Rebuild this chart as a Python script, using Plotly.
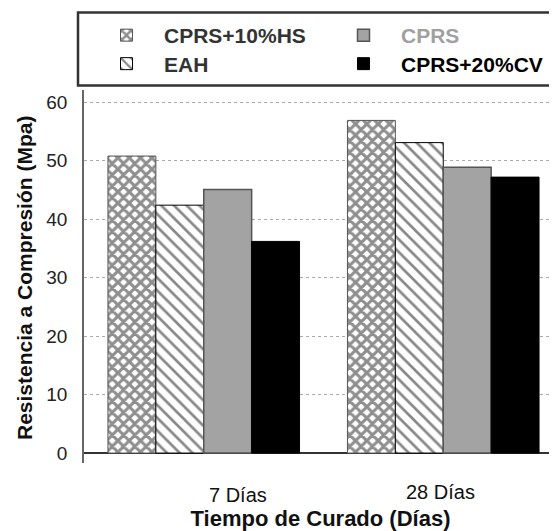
import plotly.graph_objects as go

categories = ["7 Días", "28 Días"]
series_names = ["CPRS+10%HS", "EAH", "CPRS", "CPRS+20%CV"]
hs_values = [50.8, 56.9]
eah_values = [42.4, 53.1]
cprs_values = [45.1, 48.9]
cv_values = [36.2, 47.2]
y_ticks = [0, 10, 20, 30, 40, 50, 60]

FONT = "Liberation Sans, Arial, sans-serif"

# The page body adds an 8px offset; size the figure to fit the window exactly.
OFF = 8
W, H = 557 - OFF, 531 - OFF
ML, MR, MT, MB = 84 - OFF, 0, 90 - OFF, 531 - 463
pw, ph = W - ML - MR, H - MT - MB

def cx(px):
    return (px - OFF) / W

def cy(py):
    return 1 - (py - OFF) / H

fig = go.Figure()

fig.add_trace(go.Bar(
    x=categories, y=hs_values, name=series_names[0], legend="legend",
    marker=dict(color="white", line=dict(color="#555", width=1),
                pattern=dict(shape="x", fgcolor="#1e1e1e", bgcolor="white", size=8, solidity=0.62)),
))
fig.add_trace(go.Bar(
    x=categories, y=eah_values, name=series_names[1], legend="legend2",
    marker=dict(color="white", line=dict(color="#000", width=1),
                pattern=dict(shape="\\", fgcolor="#111", bgcolor="white", size=9, solidity=0.3)),
))
fig.add_trace(go.Bar(
    x=categories, y=cprs_values, name=series_names[2], legend="legend3",
    marker=dict(color="#a3a3a3", line=dict(color="#555", width=1.5)),
))
fig.add_trace(go.Bar(
    x=categories, y=cv_values, name=series_names[3], legend="legend4",
    marker=dict(color="#000", line=dict(color="#000", width=1)),
))

def leg(x, y, color):
    return dict(
        xref="container", yref="container", x=x, y=y,
        xanchor="left", yanchor="middle",
        bgcolor="rgba(0,0,0,0)", borderwidth=0, itemwidth=65,
        font=dict(family=FONT, size=21, color=color, weight="bold"),
    )

fig.update_layout(
    width=W, height=H,
    margin=dict(l=ML, r=MR, t=MT, b=MB, autoexpand=False),
    paper_bgcolor="white", plot_bgcolor="white",
    barmode="group", bargap=0.2, bargroupgap=0,
    showlegend=True,
    legend=leg(cx(89), cy(35.5), "#333"),
    legend2=leg(cx(89), cy(64), "#333"),
    legend3=leg(cx(326), cy(35.5), "#a0a0a0"),
    legend4=leg(cx(326), cy(64), "#000"),
    font=dict(family=FONT, color="#222"),
    xaxis=dict(
        range=[-0.5, 1.475], showticklabels=False, ticks="",
        showgrid=False, showline=False, zeroline=False,
        title=dict(text="<b>Tiempo de Curado (Días)</b>", standoff=48,
                   font=dict(family=FONT, size=22, color="#111")),
    ),
    yaxis=dict(
        range=[-1.7, 62.1], tickvals=y_ticks, ticktext=[str(v) for v in y_ticks],
        ticks="", ticklabelstandoff=11,
        tickfont=dict(family=FONT, size=19, color="#222"),
        showgrid=True, gridcolor="#aaaaaa", griddash="dot", gridwidth=1,
        zeroline=True, zerolinecolor="#333", zerolinewidth=1.5,
        showline=True, linecolor="#666", linewidth=1.5,
    ),
)

# Y axis title
fig.add_annotation(
    text="<b>Resistencia a Compresión (Mpa)</b>", textangle=-90,
    xref="paper", yref="paper", x=0, y=0.5, xshift=(24 - 84), yshift=-1.5,
    xanchor="center", yanchor="middle", showarrow=False,
    font=dict(family=FONT, size=21, color="#111"),
)

# Legend frame
fig.add_shape(
    type="rect", xref="paper", yref="paper",
    x0=(78 - 84) / pw, x1=1.05,
    y0=1 + (90 - 85.5) / ph, y1=1 + (90 - 12.5) / ph,
    line=dict(color="#333", width=2.5), fillcolor="rgba(0,0,0,0)", layer="above",
)

# Category labels (offset as in reference)
label_shift_x = [34.5, -3]
label_shift_y = [-32, -29]
for cat, dx, dy in zip(categories, label_shift_x, label_shift_y):
    fig.add_annotation(
        x=cat, xref="x", y=0, yref="paper", xshift=dx, yshift=dy,
        text=cat, showarrow=False, yanchor="middle",
        font=dict(family=FONT, size=20, color="#111"),
    )

fig.write_html("out.html")
